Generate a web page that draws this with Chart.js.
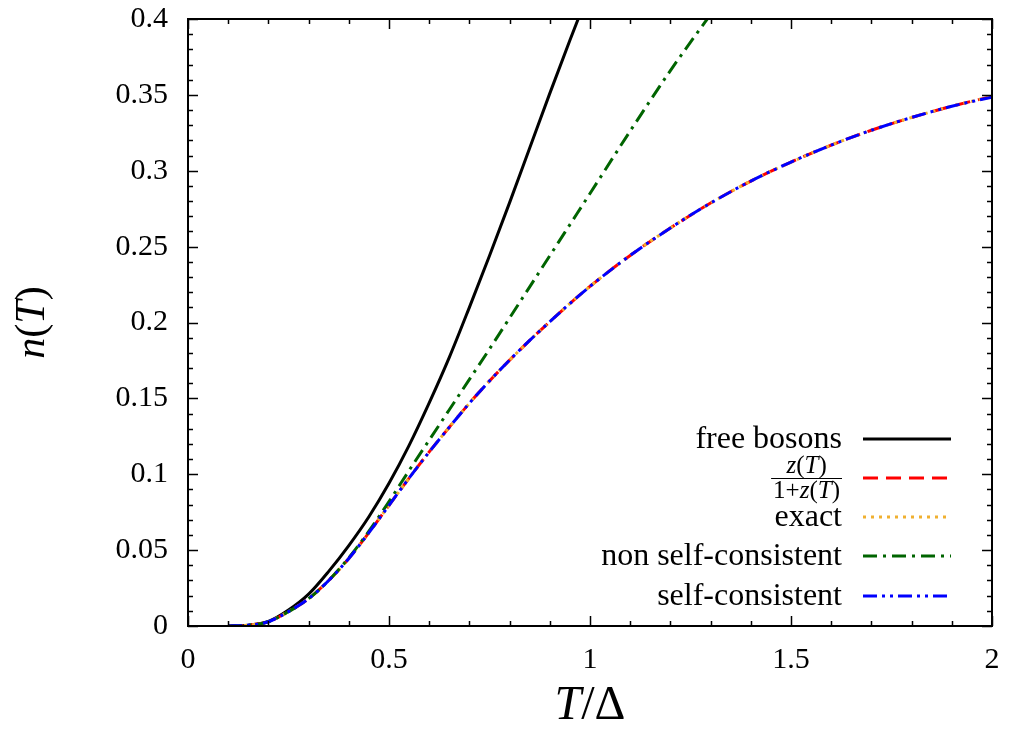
<!DOCTYPE html>
<html><head><meta charset="utf-8">
<script src="https://cdn.jsdelivr.net/npm/chart.js@4/dist/chart.umd.min.js"></script>
<style>html,body{margin:0;padding:0;background:#fff;}#wrap{width:1012px;height:729px;position:relative;}</style>
</head><body><div id="wrap"><canvas id="c" width="1012" height="729"></canvas></div>
<script>
// ---- data ----
const seriesNames = ['free bosons', 'z(T)/1+z(T)', 'exact', 'non self-consistent', 'self-consistent'];
const xTickLabels = ['0', '0.5', '1', '1.5', '2'];
const yTickLabels = ['0', '0.05', '0.1', '0.15', '0.2', '0.25', '0.3', '0.35', '0.4'];
const xTitle = 'T/\u0394';
const yTitle = 'n(T)';

const tFree = [0.1,0.15,0.2,0.25,0.3,0.35,0.4,0.45,0.5,0.55,0.6,0.65,0.7,0.75,0.8,0.85,0.9,0.95,1.0];
const nFree = [0,0.0005,0.003,0.0105,0.021,0.036,0.053,0.072,0.094,0.119,0.147,0.177,0.210,0.244,0.279,0.315,0.351,0.386,0.420];

const tNonSC = [0.1,0.15,0.2,0.25,0.3,0.35,0.4,0.45,0.5,0.55,0.6,0.65,0.7,0.75,0.8,0.85,0.9,0.95,1.0,1.1,1.2,1.3,1.35];
const nNonSC = [0,0.0005,0.0028,0.0095,0.018,0.030,0.045,0.0625,0.082,0.1025,0.1225,0.1425,0.1625,0.1825,0.203,0.2235,0.244,0.2645,0.285,0.3262,0.366,0.403,0.421];

const tMain = [0.1,0.15,0.2,0.25,0.3,0.35,0.4,0.45,0.5,0.55,0.6,0.65,0.7,0.75,0.8,0.85,0.9,0.95,1.0,1.1,1.2,1.3,1.4,1.5,1.6,1.7,1.8,1.9,2.0];
const nZRatio = [0,0.0005,0.0028,0.0095,0.018,0.030,0.0445,0.0615,0.0795,0.0975,0.1147,0.131,0.1468,0.1615,0.1752,0.1882,0.2005,0.2125,0.2238,0.2442,0.2623,0.2787,0.2932,0.3057,0.3169,0.3267,0.3351,0.3425,0.349];
const nExact  = [0,0.0005,0.0028,0.0095,0.018,0.030,0.0445,0.0615,0.0795,0.0975,0.1147,0.131,0.1468,0.1615,0.1752,0.1882,0.2005,0.2125,0.2238,0.2442,0.2623,0.2787,0.2932,0.3057,0.3169,0.3267,0.3351,0.3425,0.349];
const nSelfC  = [0,0.0005,0.0028,0.0095,0.018,0.030,0.0445,0.0615,0.0795,0.0975,0.1147,0.131,0.1468,0.1615,0.1752,0.1882,0.2005,0.2125,0.2238,0.2442,0.2623,0.2787,0.2932,0.3057,0.3169,0.3267,0.3351,0.3425,0.3485];

// ---- styles ----
const FONT = '"Liberation Serif", "Times New Roman", serif';
const colors = ['#000000', '#ff0000', '#f0b030', '#006400', '#0000ff'];
const dashes = [[], [15, 8], [3, 5], [14, 6, 3, 6], [14, 5, 3, 5, 3, 5]];

const pts = (xs, ys) => xs.map((x, i) => ({x: x, y: ys[i]}));
const seriesData = [pts(tFree, nFree), pts(tMain, nZRatio), pts(tMain, nExact), pts(tNonSC, nNonSC), pts(tMain, nSelfC)];
const drawOrder = [4, 3, 2, 1, 0]; // lower = drawn on top

function mathRuns(s) {
  const runs = [];
  for (const ch of s) {
    const it = /[A-Za-z]/.test(ch);
    if (runs.length && runs[runs.length - 1].it === it) runs[runs.length - 1].t += ch;
    else runs.push({t: ch, it: it});
  }
  return runs;
}
function mathWidth(ctx, s, size) {
  let w = 0;
  mathRuns(s).forEach(r => { ctx.font = (r.it ? 'italic ' : '') + size + 'px ' + FONT; w += ctx.measureText(r.t).width; });
  return w;
}
function drawMath(ctx, s, x, y, size, align) {
  const runs = mathRuns(s);
  const w = mathWidth(ctx, s, size);
  let cx = align === 'center' ? x - w / 2 : (align === 'right' ? x - w : x);
  ctx.textAlign = 'left';
  runs.forEach(r => { ctx.font = (r.it ? 'italic ' : '') + size + 'px ' + FONT; ctx.fillText(r.t, cx, y); cx += ctx.measureText(r.t).width; });
  return w;
}

const decor = {
  id: 'decor',
  afterDraw(chart) {
    const ctx = chart.ctx, a = chart.chartArea;
    const xs = chart.scales.x, ys = chart.scales.y;
    ctx.save();
    ctx.strokeStyle = '#000'; ctx.lineWidth = 1.5;
    ctx.beginPath();
    for (let i = 0; i <= 40; i++) {
      const py = Math.round(ys.getPixelForValue(i / 100)) + 0.5;
      const len = i % 5 === 0 ? 10 : 5;
      ctx.moveTo(a.left, py); ctx.lineTo(a.left + len, py);
      ctx.moveTo(a.right, py); ctx.lineTo(a.right - len, py);
    }
    for (let i = 0; i <= 20; i++) {
      const px = Math.round(xs.getPixelForValue(i / 10)) + 0.5;
      const len = i % 5 === 0 ? 10 : 5;
      ctx.moveTo(px, a.bottom); ctx.lineTo(px, a.bottom - len);
      ctx.moveTo(px, a.top); ctx.lineTo(px, a.top + len);
    }
    ctx.stroke();
    ctx.lineWidth = 2;
    ctx.strokeRect(a.left, a.top, a.right - a.left, a.bottom - a.top);

    // axis titles
    ctx.fillStyle = '#000';
    ctx.textBaseline = 'alphabetic';
    drawMath(ctx, xTitle, (a.left + a.right) / 2, 719, 48, 'center');
    ctx.save();
    ctx.translate(34, (a.top + a.bottom) / 2);
    ctx.rotate(-Math.PI / 2);
    drawMath(ctx, yTitle, 0, 10, 42, 'center');
    ctx.restore();

    // legend
    const rowsY = [439, 478, 517, 556, 596];
    const textRight = 842, x0 = 863, x1 = 951;
    seriesNames.forEach((name, i) => {
      const y = rowsY[i];
      ctx.fillStyle = '#000';
      if (name.indexOf('/') >= 0) {
        const parts = name.split('/');
        const fs = 25;
        const bw = Math.max(mathWidth(ctx, parts[0], fs), mathWidth(ctx, parts[1], fs)) + 4;
        const cx = textRight - bw / 2;
        drawMath(ctx, parts[0], cx, y - 5, fs, 'center');
        drawMath(ctx, parts[1], cx, y + 20, fs, 'center');
        ctx.lineWidth = 1;
        ctx.strokeStyle = '#000';
        ctx.beginPath(); ctx.moveTo(textRight - bw, y + 0.5); ctx.lineTo(textRight, y + 0.5); ctx.stroke();
      } else {
        ctx.font = '32px ' + FONT;
        ctx.textAlign = 'right';
        ctx.fillText(name, textRight, y + 9);
      }
      ctx.strokeStyle = colors[i];
      ctx.lineWidth = 3;
      ctx.setLineDash(dashes[i]);
      ctx.beginPath(); ctx.moveTo(x0, y); ctx.lineTo(x1, y); ctx.stroke();
      ctx.setLineDash([]);
    });
    ctx.restore();
  }
};

new Chart(document.getElementById('c'), {
  type: 'line',
  data: {
    datasets: seriesData.map((d, i) => ({
      label: seriesNames[i],
      data: d,
      borderColor: colors[i],
      backgroundColor: colors[i],
      borderWidth: 3,
      borderDash: dashes[i],
      borderCapStyle: 'butt',
      pointRadius: 0,
      fill: false,
      cubicInterpolationMode: 'monotone',
      order: drawOrder[i]
    }))
  },
  options: {
    responsive: false,
    devicePixelRatio: 1,
    animation: false,
    layout: {padding: {top: 19, right: 20, left: 0, bottom: 0}},
    plugins: {legend: {display: false}, tooltip: {enabled: false}},
    scales: {
      x: {
        type: 'linear', min: 0, max: 2,
        grid: {display: false, drawTicks: false},
        border: {display: false},
        ticks: {stepSize: 0.5, autoSkip: false, maxRotation: 0, padding: 16, color: '#000',
                font: {family: FONT, size: 30},
                callback: (v, i) => xTickLabels[i]},
        afterFit: s => { s.height = 103; s.paddingLeft = 0; s.paddingRight = 0; }
      },
      y: {
        type: 'linear', min: 0, max: 0.4,
        grid: {display: false, drawTicks: false},
        border: {display: false},
        ticks: {stepSize: 0.05, autoSkip: false, padding: 20, color: '#000',
                font: {family: FONT, size: 30},
                callback: (v, i) => yTickLabels[i]},
        afterFit: s => { s.width = 188; s.paddingTop = 0; s.paddingBottom = 0; }
      }
    }
  },
  plugins: [decor]
});
</script></body></html>
